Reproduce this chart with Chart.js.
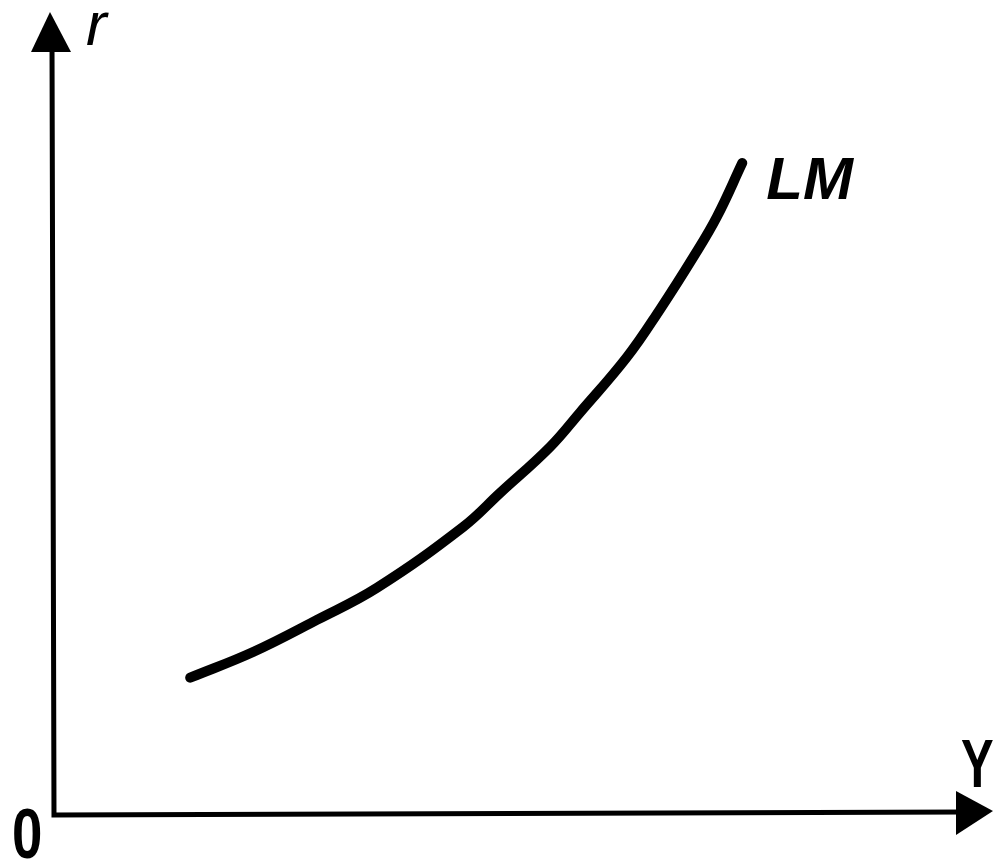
<!DOCTYPE html>
<html>
<head>
<meta charset="utf-8">
<script src="https://cdn.jsdelivr.net/npm/chart.js@4.4.1/dist/chart.umd.min.js"></script>
<style>
  html, body { margin: 0; padding: 0; background: #fff; }
  #c { display: block; }
</style>
</head>
<body>
<canvas id="c" width="995" height="864"></canvas>
<script>
// LM curve (0..100 on both axes)
const incomeY = [14.5, 21.2, 28.0, 34.4, 43.6, 47.5, 52.8, 56.0, 61.0, 64.5, 68.1, 70.6, 73.3];
const rateR = [17.1, 20.3, 24.3, 28.3, 35.9, 40.1, 45.8, 50.1, 57.0, 62.9, 69.5, 74.5, 81.2];
const curveLabel = 'LM';
const xLabel = 'Y';
const yLabel = 'r';
const originLabel = '0';

const points = incomeY.map((x, i) => ({ x: x, y: rateR[i] }));

// draws narrow text by squeezing it horizontally
function squeezed(ctx, txt, x, y, sx) {
  ctx.save();
  ctx.translate(x, y);
  ctx.scale(sx, 1);
  ctx.fillText(txt, 0, 0);
  ctx.restore();
}

// axes with arrowheads and the labels
const axesPlugin = {
  id: 'axes',
  beforeDatasetsDraw(chart) {
    const ctx = chart.ctx;
    const xs = chart.scales.x, ys = chart.scales.y;
    const x0 = xs.getPixelForValue(0), y0 = ys.getPixelForValue(0);
    const xEnd = xs.getPixelForValue(100), yEnd = ys.getPixelForValue(100);
    ctx.save();
    ctx.strokeStyle = '#000';
    ctx.fillStyle = '#000';
    ctx.lineWidth = 5;
    ctx.lineCap = 'square';
    ctx.beginPath();
    ctx.moveTo(x0 - 2, yEnd + 30);
    ctx.lineTo(x0, y0);
    ctx.lineTo(xEnd - 30, y0 - 3);
    ctx.stroke();
    // up arrow
    ctx.beginPath();
    ctx.moveTo(x0 - 4, yEnd);
    ctx.lineTo(x0 + 17, yEnd + 40);
    ctx.lineTo(x0 - 23, yEnd + 40);
    ctx.closePath();
    ctx.fill();
    // right arrow
    ctx.beginPath();
    ctx.moveTo(xEnd, y0 - 4);
    ctx.lineTo(xEnd - 37, y0 - 24);
    ctx.lineTo(xEnd - 37, y0 + 20);
    ctx.closePath();
    ctx.fill();

    ctx.textBaseline = 'alphabetic';
    ctx.textAlign = 'left';
    ctx.font = 'italic 62px "Liberation Sans", Arial, sans-serif';
    ctx.fillText(yLabel, x0 + 32, yEnd + 33);
    ctx.font = 'bold 70px "Liberation Sans", Arial, sans-serif';
    squeezed(ctx, originLabel, x0 - 42, y0 + 43, 0.78);
    ctx.font = 'bold 68px "Liberation Sans", Arial, sans-serif';
    squeezed(ctx, xLabel, xEnd - 32, y0 - 28, 0.72);
    ctx.font = 'italic bold 60px "Liberation Sans", Arial, sans-serif';
    const last = points[points.length - 1];
    ctx.fillText(curveLabel, xs.getPixelForValue(last.x) + 24, ys.getPixelForValue(last.y) + 36);
    ctx.restore();
  }
};

new Chart(document.getElementById('c'), {
  type: 'scatter',
  data: {
    datasets: [{
      label: curveLabel,
      data: points,
      showLine: true,
      borderColor: '#000',
      borderWidth: 10,
      borderCapStyle: 'round',
      pointRadius: 0,
      tension: 0.4,
      fill: false
    }]
  },
  options: {
    responsive: false,
    animation: false,
    layout: { padding: { left: 54, top: 12, right: 2, bottom: 49 } },
    scales: {
      x: { type: 'linear', min: 0, max: 100, display: false },
      y: { type: 'linear', min: 0, max: 100, display: false }
    },
    plugins: {
      legend: { display: false },
      tooltip: { enabled: false }
    }
  },
  plugins: [axesPlugin]
});
</script>
</body>
</html>
